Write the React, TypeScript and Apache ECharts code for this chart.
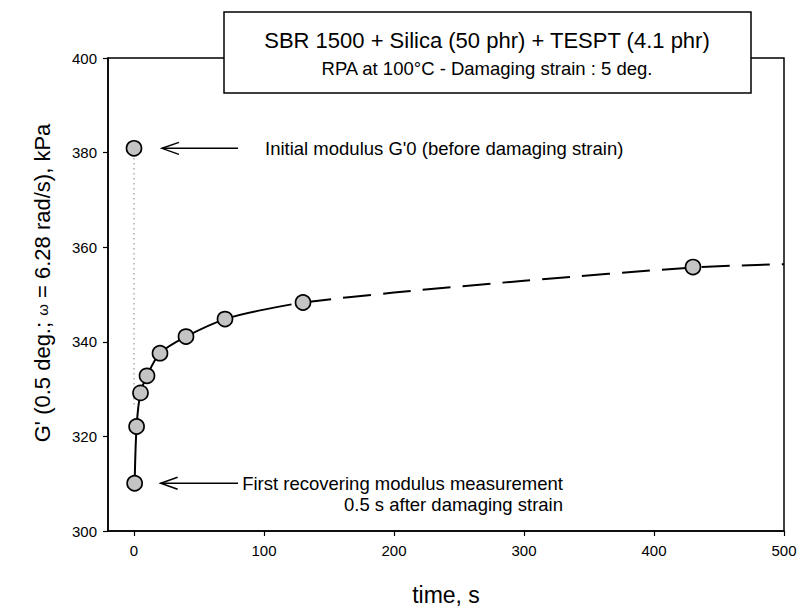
import React, { useEffect, useRef } from "react";
import * as echarts from "echarts";

// measured points
const pointTimes = [0, 0.5, 2, 5, 10, 20, 40, 70, 130, 430];
const pointModulus = [380.9, 310.1, 322.1, 329.2, 332.8, 337.6, 341.1, 344.8, 348.3, 355.8];

// fitted curve (solid part, then dashed part)
const curveSolidTimes = [0.5, 2, 5, 10, 20, 40, 70, 100];
const curveSolidModulus = [310.1, 322.1, 329.2, 332.8, 337.6, 341.1, 344.8, 346.8];
const curveDashTimes = [100, 130, 200, 300, 430, 500];
const curveDashModulus = [346.8, 348.3, 350.4, 352.9, 355.7, 356.4];

// dotted connector at t = 0
const connectorTimes = [0, 0];
const connectorModulus = [380.9, 326];

const xTicks = [0, 100, 200, 300, 400, 500];

const titleText = "SBR 1500 + Silica (50 phr) + TESPT (4.1 phr)";
const subtitleText = "RPA at 100°C - Damaging strain : 5 deg.";
const note1 = "Initial modulus G'0 (before damaging strain)";
const note2 = "First recovering modulus measurement\n0.5 s after damaging strain";
const xName = "time, s";
const yName = "G' (0.5 deg.; {w|ω} = 6.28 rad/s), kPa";

const zip = (a: number[], b: number[]) => a.map((v, i) => [v, b[i]]);

export default function App() {
  const ref = useRef<HTMLDivElement>(null);
  useEffect(() => {
    const chart = echarts.init(ref.current!, null, { renderer: "svg" });
    const font = "Arial, 'Liberation Sans', Helvetica, sans-serif";
    chart.setOption({
      animation: false,
      backgroundColor: "#fff",
      textStyle: { fontFamily: font },
      grid: {
        left: 108,
        right: 17,
        top: 58,
        bottom: 82,
        show: true,
        borderColor: "#000",
        borderWidth: 1.5,
      },
      xAxis: {
        type: "value",
        min: -20,
        max: 500,
        name: xName,
        nameLocation: "middle",
        nameGap: 52,
        nameTextStyle: { fontSize: 23, color: "#000", fontFamily: font },
        axisLine: { show: true, onZero: false, lineStyle: { color: "#000", width: 1.5 } },
        axisTick: { show: true, length: 5, customValues: xTicks, lineStyle: { color: "#000", width: 1.2 } },
        axisLabel: { customValues: xTicks, fontSize: 15, color: "#000", margin: 12, fontFamily: font },
        splitLine: { show: false },
      },
      yAxis: {
        type: "value",
        min: 300,
        max: 400,
        interval: 20,
        axisLine: { show: true, onZero: false, lineStyle: { color: "#000", width: 1.5 } },
        axisTick: { show: true, length: 5, lineStyle: { color: "#000", width: 1.2 } },
        axisLabel: { fontSize: 15, color: "#000", margin: 11, fontFamily: font },
        splitLine: { show: false },
      },
      series: [
        {
          type: "line",
          data: zip(connectorTimes, connectorModulus),
          showSymbol: false,
          lineStyle: { color: "#444", width: 1, type: [1, 4] },
          z: 1,
        },
        {
          type: "line",
          data: zip(curveSolidTimes, curveSolidModulus),
          showSymbol: false,
          smooth: 0.3,
          lineStyle: { color: "#000", width: 2 },
          z: 2,
        },
        {
          type: "line",
          data: zip(curveDashTimes, curveDashModulus),
          showSymbol: false,
          smooth: 0.3,
          lineStyle: { color: "#000", width: 2, type: [28, 12] },
          z: 2,
        },
        {
          type: "scatter",
          data: zip(pointTimes, pointModulus),
          symbol: "circle",
          symbolSize: 15,
          itemStyle: { color: "#c4c4c4", borderColor: "#000", borderWidth: 1.7, opacity: 1 },
          z: 5,
        },
      ],
    });

    const px = (t: number, g: number) => chart.convertToPixel({ gridIndex: 0 }, [t, g]) as number[];
    const arrow = (tail: number[], tip: number[]) => [
      { type: "line", shape: { x1: tail[0], y1: tail[1], x2: tip[0], y2: tip[1] }, style: { stroke: "#000", lineWidth: 1.5 } },
      {
        type: "polyline",
        shape: { points: [[tip[0] + 17, tip[1] - 6], tip, [tip[0] + 17, tip[1] + 6]] },
        style: { stroke: "#000", lineWidth: 1.5, fill: null },
      },
    ];
    const a1Tail = px(80, 380.9);
    const a1Tip = px(21.5, 380.9);
    const a2Tail = px(80, 310.1);
    const a2Tip = px(20.5, 310.1);
    const n1 = px(100.8, 380.9);
    const n2 = px(330, 307.8);

    chart.setOption({
      graphic: [
        ...arrow(a1Tail, a1Tip),
        ...arrow(a2Tail, a2Tip),
        {
          type: "text",
          x: n1[0],
          y: n1[1],
          style: { text: note1, font: `18.5px ${font}`, fill: "#000", textAlign: "left", textVerticalAlign: "middle" },
        },
        {
          type: "text",
          x: n2[0],
          y: n2[1],
          style: { text: note2, font: `18.5px ${font}`, fill: "#000", textAlign: "right", textVerticalAlign: "middle", lineHeight: 21 },
        },
        {
          type: "text",
          x: 42,
          y: 283,
          rotation: Math.PI / 2,
          style: {
            text: yName,
            font: `22px ${font}`,
            fill: "#000",
            textAlign: "center",
            textVerticalAlign: "middle",
            rich: { w: { fontSize: 15, fontFamily: font, fill: "#000" } },
          },
        },
        {
          type: "rect",
          shape: { x: 224, y: 12, width: 527, height: 81 },
          style: { fill: "#fff", stroke: "#000", lineWidth: 1.5 },
          z: 100,
        },
        {
          type: "text",
          x: 487,
          y: 40,
          style: { text: titleText, font: `22px ${font}`, fill: "#000", textAlign: "center", textVerticalAlign: "middle" },
          z: 101,
        },
        {
          type: "text",
          x: 487,
          y: 68,
          style: { text: subtitleText, font: `18.5px ${font}`, fill: "#000", textAlign: "center", textVerticalAlign: "middle" },
          z: 101,
        },
      ],
    });
    return () => chart.dispose();
  }, []);
  return <div ref={ref} style={{ position: "fixed", left: 0, top: 0, width: 801, height: 613 }} />;
}
